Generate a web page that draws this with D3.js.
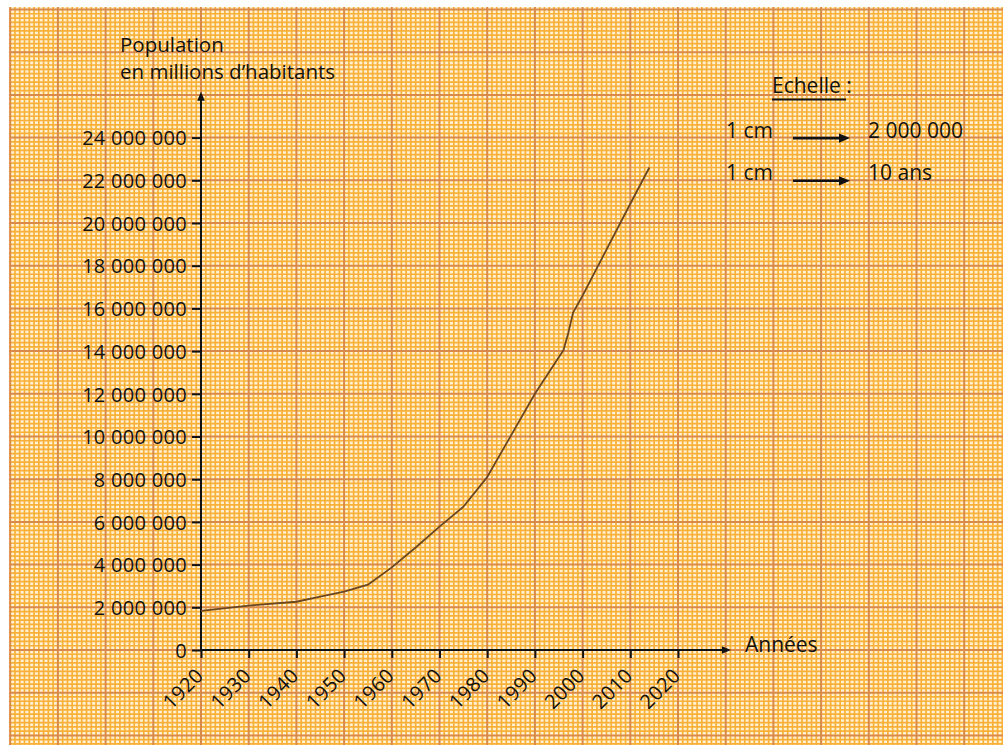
<!DOCTYPE html>
<meta charset="utf-8">
<head>
	<title>Population en millions d'habitants</title>
	<style>
	body { margin: 0; background: #fff; }
	text { font-family: "Open Sans", sans-serif; fill: #111; font-weight: 500; }
	.axis line { stroke: #111; stroke-width: 2; }
	</style>
</head>
<body>
	<script src="https://cdn.jsdelivr.net/npm/d3@7/dist/d3.min.js"></script>
	<script>

	// data
	var years = [1920, 1930, 1940, 1945, 1950, 1955, 1960, 1965, 1970, 1975, 1980, 1990, 1996, 1997, 1998, 2000, 2010, 2014];
	var population = [1830000, 2080000, 2260000, 2500000, 2730000, 3060000, 3870000, 4800000, 5780000, 6710000, 8100000, 12000000, 14050000, 14850000, 15800000, 16600000, 20900000, 22600000];

	var xTicks = [1920, 1930, 1940, 1950, 1960, 1970, 1980, 1990, 2000, 2010, 2020];
	var yTicks = [0, 2000000, 4000000, 6000000, 8000000, 10000000, 12000000, 14000000, 16000000, 18000000, 20000000, 22000000, 24000000];

	var titleLines = ["Population", "en millions d\u2019habitants"];
	var xTitle = "Années";
	var scaleTitle = "Echelle :";
	var scaleLeft = ["1 cm", "1 cm"];
	var scaleRight = ["2 000 000", "10 ans"];

	var width = 1003, height = 747;
	var paper = {x0: 9, y0: 7, x1: 1003, y1: 745};

	var x = d3.scaleLinear().domain([1920, 2020]).range([201, 678]);
	var y = d3.scaleLinear().domain([0, 24000000]).range([650, 137.6]);

	var fr = d3.formatLocale({decimal: ",", thousands: " ", grouping: [3], currency: ["", " €"]});
	var fmt = fr.format(",d");

	var svg = d3.select("body").append("svg")
		.attr("width", width)
		.attr("height", height);

	// graph paper : 1 mm = 1 year / 200 000 hab.
	svg.append("clipPath").attr("id", "paper")
		.append("rect")
		.attr("x", paper.x0).attr("y", paper.y0)
		.attr("width", paper.x1 - paper.x0).attr("height", paper.y1 - paper.y0);

	var grid = svg.append("g").attr("clip-path", "url(#paper)");

	grid.append("rect")
		.attr("x", paper.x0).attr("y", paper.y0)
		.attr("width", paper.x1 - paper.x0).attr("height", paper.y1 - paper.y0)
		.style("fill", "#fff1d2");

	var gx = d3.range(Math.floor(x.invert(paper.x0)), Math.ceil(x.invert(paper.x1)) + 1);
	var gy = d3.range(Math.floor(y.invert(paper.y1) / 200000), Math.ceil(y.invert(paper.y0) / 200000) + 1);

	grid.selectAll("line.vmin")
		.data(gx.filter(function(d) { return d % 10 != 0; }))
		.enter().append("line")
		.attr("x1", function(d) { return x(d); }).attr("x2", function(d) { return x(d); })
		.attr("y1", paper.y0).attr("y2", paper.y1)
		.style("stroke", "#f8b038").style("stroke-width", 1.7);

	grid.selectAll("line.hmin")
		.data(gy.filter(function(d) { return d % 10 != 0; }))
		.enter().append("line")
		.attr("y1", function(d) { return y(d * 200000); }).attr("y2", function(d) { return y(d * 200000); })
		.attr("x1", paper.x0).attr("x2", paper.x1)
		.style("stroke", "#f8b038").style("stroke-width", 1.7);

	grid.selectAll("line.vmaj")
		.data(gx.filter(function(d) { return d % 10 == 0; }))
		.enter().append("line")
		.attr("x1", function(d) { return x(d); }).attr("x2", function(d) { return x(d); })
		.attr("y1", paper.y0).attr("y2", paper.y1)
		.style("stroke", "#d98a48").style("stroke-width", 2);

	grid.selectAll("line.hmaj")
		.data(gy.filter(function(d) { return d % 10 == 0; }))
		.enter().append("line")
		.attr("y1", function(d) { return y(d * 200000); }).attr("y2", function(d) { return y(d * 200000); })
		.attr("x1", paper.x0).attr("x2", paper.x1)
		.style("stroke", "#d98a48").style("stroke-width", 2);

	// axes
	var yAxis = d3.axisLeft(y).tickValues(yTicks).tickSize(9).tickPadding(5).tickFormat(fmt);
	var xAxis = d3.axisBottom(x).tickValues(xTicks).tickSize(8).tickFormat(d3.format("d"));

	var ya = svg.append("g").attr("class", "y axis")
		.attr("transform", "translate(" + x(1920) + ",0)")
		.call(yAxis);
	ya.select(".domain").remove();
	ya.selectAll("text")
		.attr("dy", "0.36em")
		.style("font-size", "20px")
		.style("letter-spacing", "0.3px")
		.style("font-family", "'Open Sans', sans-serif")
		.style("fill", "#111");

	var xa = svg.append("g").attr("class", "x axis")
		.attr("transform", "translate(0," + y(0) + ")")
		.call(xAxis);
	xa.select(".domain").remove();
	xa.selectAll("text")
		.attr("x", 0).attr("y", 0).attr("dy", 0)
		.style("text-anchor", "end")
		.style("font-size", "20px")
		.style("letter-spacing", "0.3px")
		.style("font-family", "'Open Sans', sans-serif")
		.style("fill", "#111")
		.attr("transform", "translate(3,27) rotate(-45)");

	function arrow(g, x1, y1, x2, y2, w, head) {
		var a = Math.atan2(y2 - y1, x2 - x1);
		g.append("line")
			.attr("x1", x1).attr("y1", y1)
			.attr("x2", x2 - Math.cos(a) * head * 0.8).attr("y2", y2 - Math.sin(a) * head * 0.8)
			.style("stroke", "#111").style("stroke-width", w);
		var bx = x2 - Math.cos(a) * head, by = y2 - Math.sin(a) * head;
		var px = -Math.sin(a) * head * 0.42, py = Math.cos(a) * head * 0.42;
		g.append("path")
			.attr("d", "M" + x2 + "," + y2 + "L" + (bx + px) + "," + (by + py) + "L" + (bx - px) + "," + (by - py) + "Z")
			.style("fill", "#111");
	}

	var ax = svg.append("g");
	arrow(ax, x(1920), y(0), x(1920), y(26150000), 2, 9);
	arrow(ax, x(1920), y(0), x(2031.1), y(0), 2, 9);

	// line
	var data = years.map(function(d, i) { return {year: d, value: population[i]}; });

	var line = d3.line()
		.x(function(d) { return x(d.year); })
		.y(function(d) { return y(d.value); });

	svg.append("path")
		.datum(data)
		.attr("d", line)
		.style("fill", "none")
		.style("stroke", "#6a4720")
		.style("stroke-width", 1.8)
		.style("stroke-linejoin", "round");

	// titles
	svg.selectAll("text.title")
		.data(titleLines)
		.enter().append("text")
		.attr("class", "title")
		.attr("x", 120)
		.attr("y", function(d, i) { return 52 + i * 27; })
		.style("font-size", "20.5px")
		.text(function(d) { return d; });

	svg.append("text")
		.attr("x", 745).attr("y", 652)
		.style("font-size", "21px")
		.text(xTitle);

	// echelle
	var leg = svg.append("g");
	leg.append("text")
		.attr("x", 772).attr("y", 93)
		.style("font-size", "21px")
		.text(scaleTitle);
	leg.append("line")
		.attr("x1", 772).attr("x2", 846)
		.attr("y1", 99.5).attr("y2", 99.5)
		.style("stroke", "#111").style("stroke-width", 2);

	scaleLeft.forEach(function(d, i) {
		var yy = y(yTicks[12 - i]);
		leg.append("text").attr("x", 726).attr("y", yy).style("font-size", "21px").text(d);
		arrow(leg, 793, yy + 0.5, 850, yy + 0.5, 2.6, 11);
		leg.append("text").attr("x", 868).attr("y", yy).style("font-size", "21px").text(scaleRight[i]);
	});

	</script>
</body>
